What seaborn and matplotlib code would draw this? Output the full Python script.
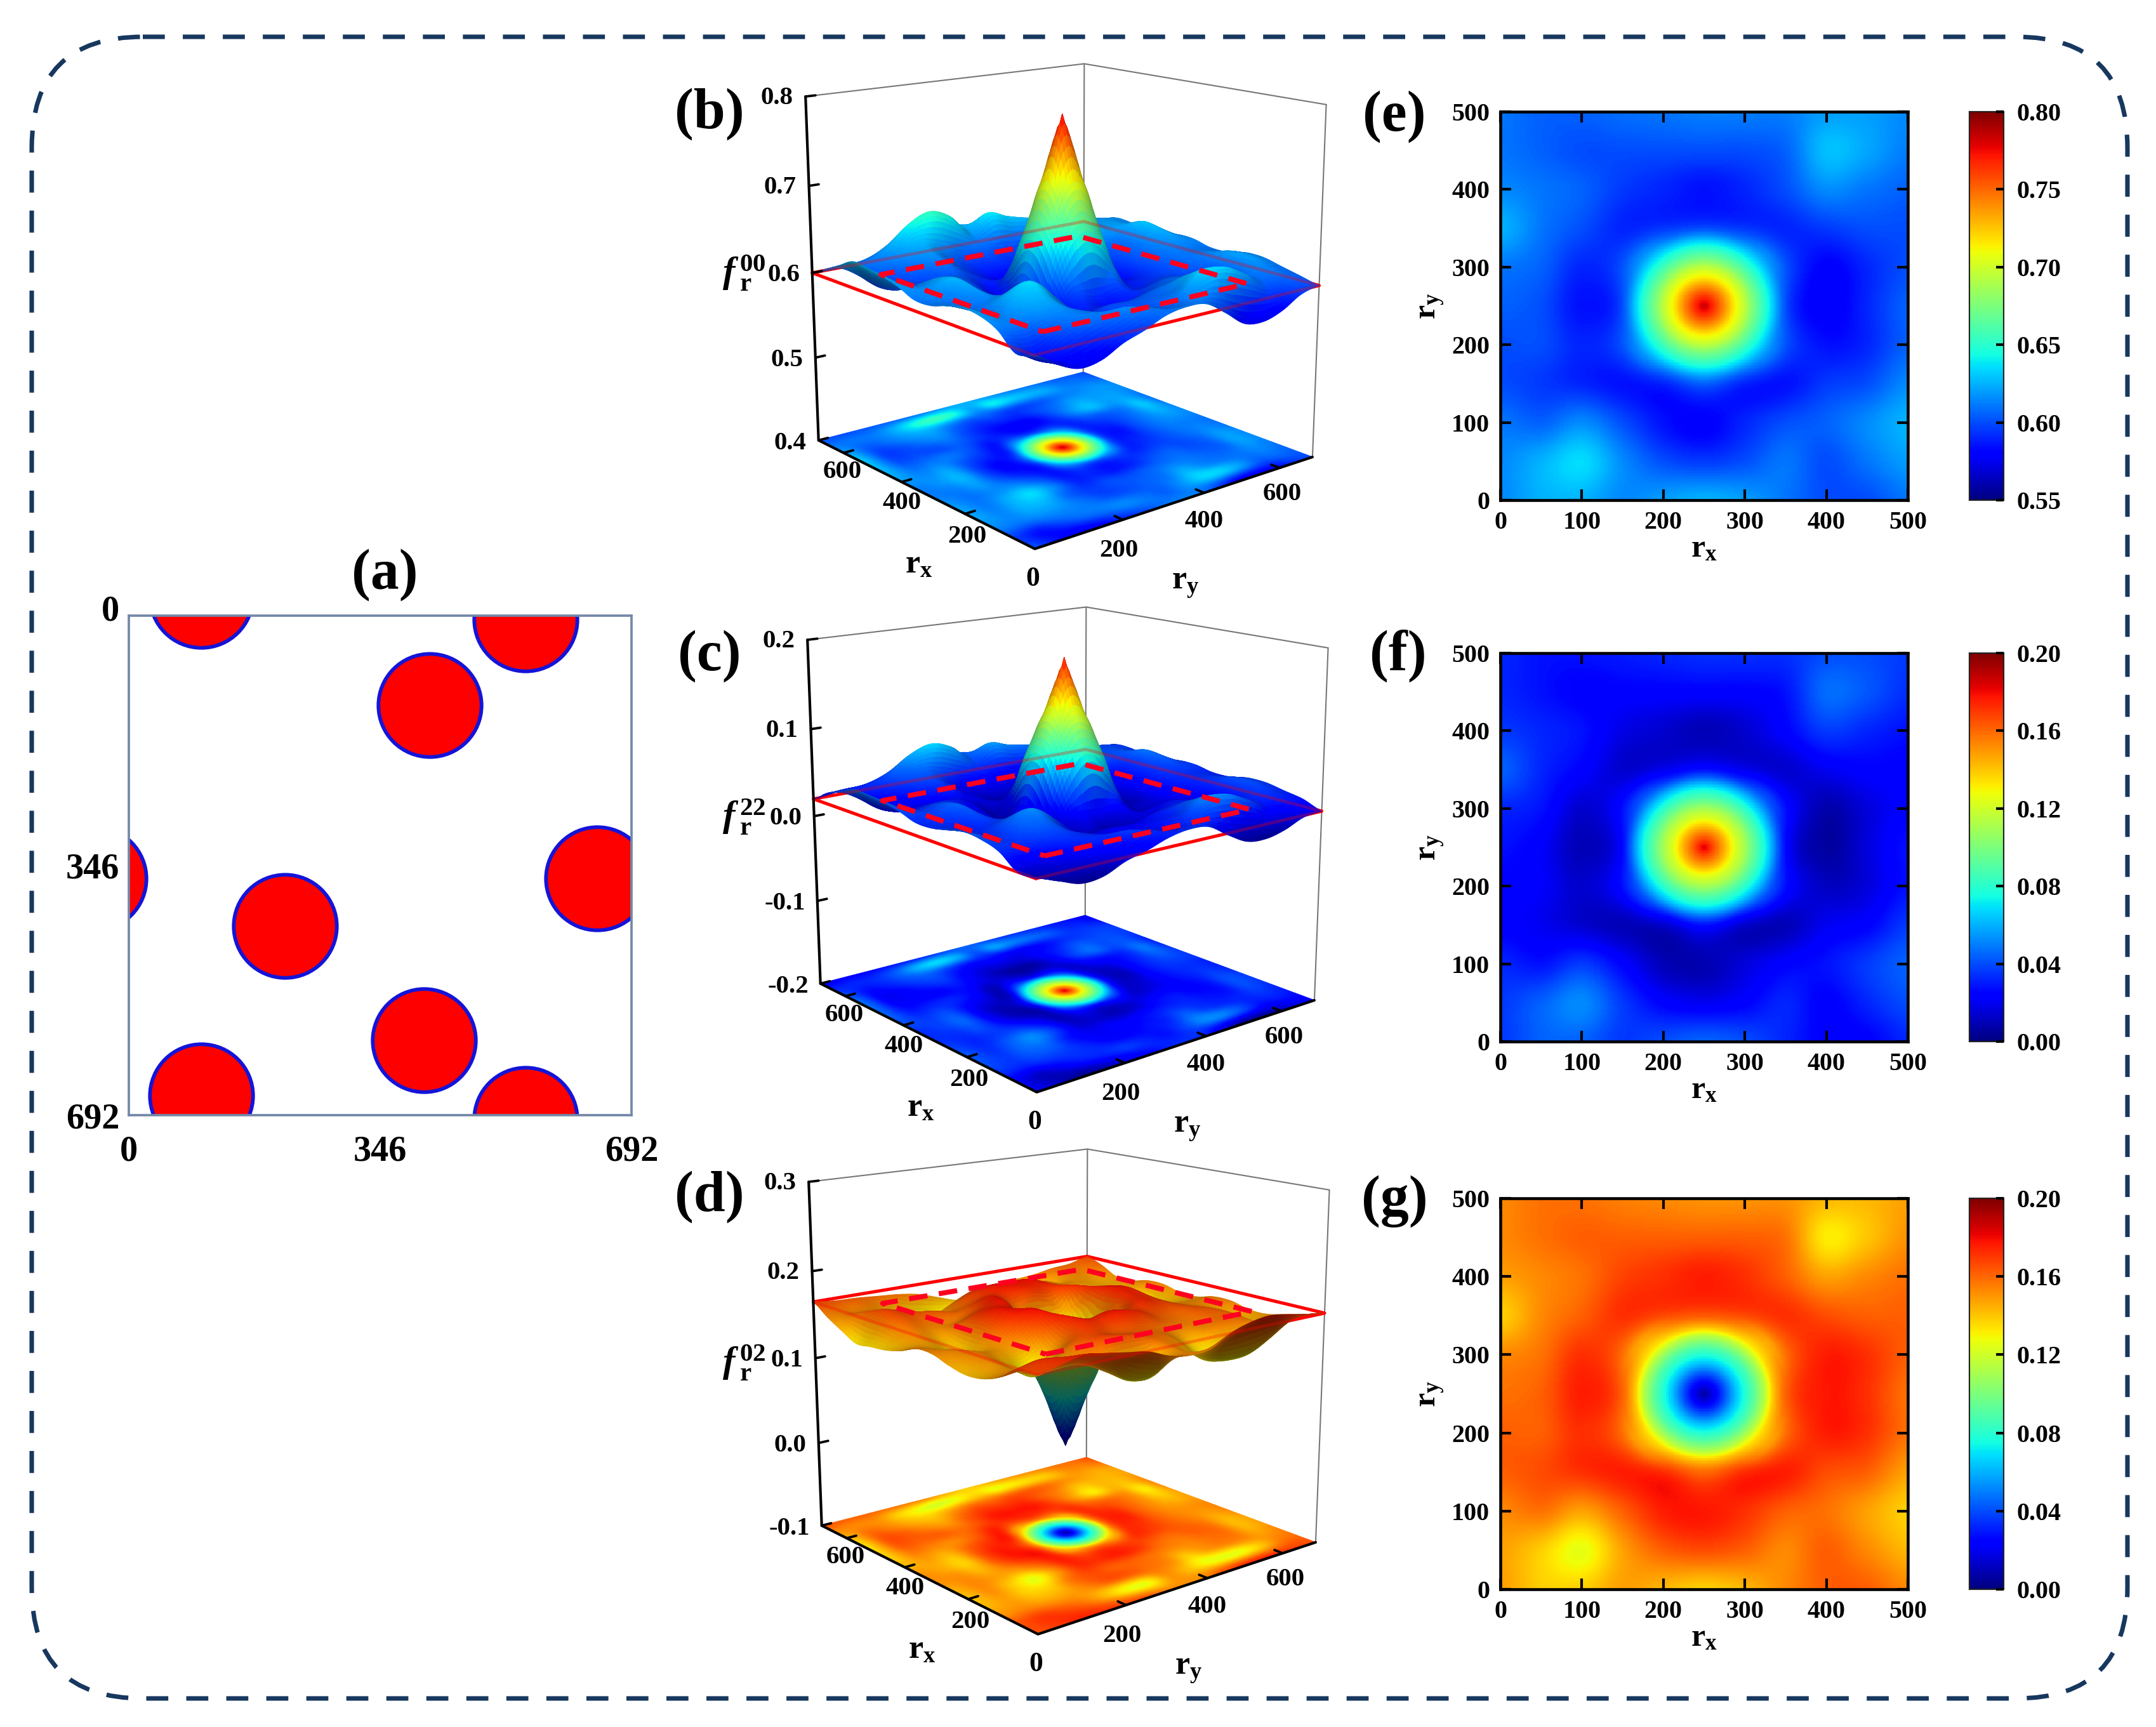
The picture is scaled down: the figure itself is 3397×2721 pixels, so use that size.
import numpy as np
import seaborn as sns
import matplotlib
matplotlib.use("Agg")
import matplotlib.pyplot as plt
from matplotlib.colors import Normalize
from matplotlib.patches import FancyBboxPatch
from matplotlib.ticker import FormatStrFormatter
from matplotlib.transforms import ScaledTranslation
from mpl_toolkits.mplot3d import proj3d

# === Panel (a): circle centres ===
circle_x = [414, 546, 100, 215, 406, 546, 645, -47, 100, 546]
circle_y = [124, 5, -27, 430, 588, 702, 364, 364, 665, 697]
cell_ticks = [0, 346, 692]

# === Surfaces, rows are r_y from top (692) to bottom (0), columns r_x from 0 to 692 ===
# the inner 11x11 is what panels e, f, g show (0-500 in steps of 50)
f00_rows = [
    [.600, .605, .610, .615, .615, .610, .610, .615, .615, .610, .610, .615, .615, .605, .600],
    [.595, .608, .615, .620, .620, .615, .612, .618, .625, .630, .622, .620, .618, .610, .604],
    [.582, .605, .610, .605, .605, .608, .610, .612, .612, .612, .620, .620, .615, .612, .606],
    [.575, .620, .610, .605, .600, .600, .600, .600, .600, .605, .628, .622, .612, .622, .610],
    [.578, .632, .615, .610, .605, .595, .590, .585, .590, .600, .615, .610, .605, .626, .612],
    [.595, .632, .625, .610, .600, .590, .595, .600, .595, .590, .595, .600, .600, .632, .615],
    [.610, .618, .610, .605, .590, .602, .660, .695, .660, .602, .580, .590, .600, .640, .620],
    [.612, .605, .605, .600, .585, .600, .695, .785, .695, .600, .578, .590, .605, .622, .625],
    [.608, .610, .600, .600, .590, .602, .660, .695, .660, .602, .585, .590, .605, .645, .618],
    [.598, .615, .600, .595, .590, .585, .590, .605, .590, .585, .595, .600, .615, .655, .610],
    [.590, .610, .610, .605, .615, .600, .585, .580, .590, .600, .605, .615, .625, .645, .606],
    [.578, .606, .615, .625, .635, .615, .600, .595, .600, .610, .600, .610, .620, .625, .604],
    [.575, .596, .615, .625, .625, .615, .620, .625, .620, .610, .600, .600, .610, .612, .602],
    [.585, .585, .610, .615, .612, .610, .612, .618, .615, .608, .600, .598, .604, .610, .600],
    [.600, .595, .612, .620, .622, .618, .612, .612, .620, .625, .628, .630, .620, .610, .600],
]
f22_rows = [
    [.020, .028, .032, .036, .036, .032, .032, .036, .036, .032, .032, .036, .036, .028, .020],
    [.018, .030, .036, .040, .040, .036, .034, .038, .044, .048, .042, .040, .038, .032, .027],
    [.009, .028, .032, .028, .028, .030, .032, .034, .034, .034, .040, .040, .036, .034, .029],
    [.004, .040, .032, .028, .024, .024, .024, .024, .024, .028, .046, .042, .034, .042, .032],
    [.006, .050, .036, .032, .028, .018, .014, .010, .014, .024, .036, .032, .028, .046, .034],
    [.018, .050, .044, .032, .024, .014, .020, .028, .020, .014, .020, .024, .024, .050, .036],
    [.032, .038, .032, .028, .014, .028, .080, .112, .080, .028, .008, .016, .024, .056, .040],
    [.034, .028, .028, .022, .010, .026, .112, .185, .112, .026, .006, .016, .028, .042, .044],
    [.030, .032, .024, .022, .014, .028, .080, .112, .080, .028, .012, .016, .028, .060, .038],
    [.022, .036, .024, .020, .014, .010, .014, .028, .014, .010, .020, .024, .036, .068, .032],
    [.016, .032, .032, .028, .036, .024, .010, .009, .016, .024, .028, .036, .044, .060, .029],
    [.006, .029, .036, .044, .052, .036, .024, .020, .024, .032, .024, .032, .040, .044, .027],
    [.004, .020, .036, .044, .044, .036, .040, .044, .040, .032, .024, .024, .032, .034, .025],
    [.012, .012, .032, .036, .034, .032, .034, .038, .036, .030, .024, .022, .027, .032, .024],
    [.020, .020, .034, .040, .042, .038, .034, .034, .040, .044, .046, .047, .040, .032, .020],
]
f02_rows = [
    [.165, .158, .153, .148, .148, .153, .153, .148, .148, .153, .153, .148, .148, .158, .165],
    [.168, .155, .148, .143, .143, .148, .151, .145, .138, .132, .140, .143, .145, .153, .159],
    [.172, .140, .153, .158, .158, .155, .153, .151, .151, .151, .143, .143, .148, .151, .157],
    [.175, .128, .153, .158, .162, .162, .162, .162, .162, .158, .132, .140, .151, .140, .153],
    [.172, .126, .148, .153, .158, .168, .172, .176, .172, .162, .148, .153, .158, .136, .151],
    [.165, .130, .138, .153, .162, .172, .166, .162, .166, .172, .166, .162, .162, .132, .148],
    [.153, .142, .153, .158, .172, .158, .102, .080, .102, .158, .176, .172, .162, .128, .143],
    [.151, .150, .158, .162, .176, .160, .080, .006, .080, .160, .177, .172, .158, .136, .138],
    [.155, .128, .162, .162, .172, .158, .102, .080, .102, .158, .176, .172, .158, .128, .145],
    [.164, .128, .162, .166, .172, .176, .172, .158, .172, .176, .166, .162, .148, .122, .153],
    [.168, .142, .153, .158, .148, .162, .176, .177, .172, .162, .158, .148, .138, .128, .157],
    [.172, .157, .148, .138, .126, .148, .162, .166, .162, .153, .162, .153, .143, .138, .159],
    [.175, .165, .148, .138, .138, .148, .143, .138, .143, .153, .162, .162, .153, .151, .161],
    [.170, .170, .153, .148, .151, .153, .151, .145, .148, .155, .162, .164, .159, .153, .162],
    [.165, .165, .151, .143, .141, .145, .151, .151, .143, .138, .136, .134, .143, .153, .165],
]

core_r = [0, 12, 25, 37, 50, 60, 75, 85, 100]
f00_core = [.785, .765, .740, .715, .695, .675, .650, .635, .605]
f22_core = [.185, .165, .145, .125, .110, .095, .075, .060, .030]
f02_core = [.006, .020, .040, .060, .078, .090, .115, .140, .165]

# === Axis settings per panel ===
z_ticks = {"b": [.4, .5, .6, .7, .8], "c": [-.2, -.1, 0, .1, .2], "d": [-.1, 0, .1, .2, .3]}
red_level = {"b": .6, "c": .02, "d": .165}
f_names = {"b": "00", "c": "22", "d": "02"}
norm_range = {"b": (.55, .80), "c": (0, .20), "d": (0, .20)}
cbar_ticks = {"e": [.55, .60, .65, .70, .75, .80],
              "f": [0, .04, .08, .12, .16, .20],
              "g": [0, .04, .08, .12, .16, .20]}
plane_ticks = [200, 400, 600]
map_ticks = [0, 100, 200, 300, 400, 500]
CELL = 692
WINDOW = [96, 596]

W, H = 3397, 2721
sns.set_style("white")
plt.rcParams["font.family"] = ["Liberation Serif"]
plt.rcParams["font.weight"] = "bold"
plt.rcParams["text.color"] = "black"
plt.rcParams["axes.labelcolor"] = "black"
plt.rcParams["xtick.labelcolor"] = "black"
plt.rcParams["ytick.labelcolor"] = "black"
plt.rcParams["mathtext.fontset"] = "custom"
plt.rcParams["mathtext.rm"] = "Liberation Serif"
plt.rcParams["mathtext.it"] = "Liberation Serif:italic"
plt.rcParams["mathtext.bf"] = "Liberation Serif:bold"
plt.rcParams["mathtext.bfit"] = "Liberation Serif:italic:bold"
RX = r"$\mathbf{r}_{\mathbf{x}}$"
RY = r"$\mathbf{r}_{\mathbf{y}}$"


def smooth(grid, n):
    # Catmull-Rom resampling of a read grid, only so the drawing is not blocky
    def along(a):
        pad = np.concatenate([a[:1], a, a[-1:]], axis=0)
        t = np.linspace(0, 1, n, endpoint=False)[:, None]
        out = []
        for i in range(1, pad.shape[0] - 2):
            p0, p1, p2, p3 = pad[i - 1], pad[i], pad[i + 1], pad[i + 2]
            seg = 0.5 * (2 * p1 + (p2 - p0) * t + (2 * p0 - 5 * p1 + 4 * p2 - p3) * t ** 2
                         + (3 * p1 - p0 - 3 * p2 + p3) * t ** 3)
            out.append(seg)
        return np.concatenate(out + [a[-1:]], axis=0)
    return along(along(grid).T).T


def with_core(fine, extent, core):
    # put the read radial profile in the middle of a resampled grid
    c = np.linspace(0, extent, fine.shape[0]) - extent / 2
    r = np.hypot(*np.meshgrid(c, c))
    w = np.clip((105 - r) / 30, 0, 1)
    return w * np.interp(r, core_r, core) + (1 - w) * fine


fig = plt.figure(figsize=(W / 300, H / 300), dpi=300, facecolor="white")

# overlay in pixel units for the border and the panel letters
bg = fig.add_axes([0, 0, 1, 1], zorder=-5)
bg.set_xlim(0, W)
bg.set_ylim(H, 0)
bg.axis("off")
bg.add_patch(FancyBboxPatch((50, 58), 3302, 2618, boxstyle="round,pad=0,rounding_size=175",
                            fc="none", ec="#17375e", lw=1.7, ls=(0, (4.9, 4)), capstyle="butt"))
for name, px, py in [("(a)", 606, 906), ("(b)", 1118, 180), ("(c)", 1118, 1034), ("(d)", 1118, 1886),
                     ("(e)", 2197, 184), ("(f)", 2203, 1033), ("(g)", 2197, 1893)]:
    bg.text(px, py, name, fontsize=21.5, ha="center", va="center")


def add_box(x0, y0, x1, y1):
    return fig.add_axes([x0 / W, 1 - y1 / H, (x1 - x0) / W, (y1 - y0) / H])


# === Panel (a) ===
ax_a = add_box(203, 970, 995, 1757)
sns.scatterplot(x=circle_x, y=circle_y, ax=ax_a, s=1520, color="#ff0000",
                edgecolor="#1414d8", linewidth=1.4, legend=False)
ax_a.set_xlim(0, CELL)
ax_a.set_ylim(CELL, 0)
ax_a.set_xticks(cell_ticks)
ax_a.set_yticks(cell_ticks)
ax_a.tick_params(length=0, labelsize=13.5)
ax_a.tick_params(axis="x", pad=7.5)
ax_a.tick_params(axis="y", pad=3.5)
first = ax_a.get_yticklabels()[0]
first.set_transform(first.get_transform() + ScaledTranslation(0, 12 / 300, fig.dpi_scale_trans))
for s in ax_a.spines.values():
    s.set_visible(True)
    s.set_color("#7488a8")
    s.set_linewidth(0.9)


# === Panels (e), (f), (g) ===
def draw_map(key, rows, core, vmin, vmax, y0, y1):
    ax = add_box(2364, y0, 3006, y1)
    cax = add_box(3103, y0, 3157, y1)
    grid = np.array(rows)[::-1][2:13, 2:13]
    fine = with_core(smooth(grid, 24), 500, core)
    n = fine.shape[0]
    sns.heatmap(fine, ax=ax, cbar_ax=cax, cmap="jet", vmin=vmin, vmax=vmax,
                xticklabels=False, yticklabels=False, rasterized=True,
                cbar_kws={"ticks": cbar_ticks[key]})
    ax.invert_yaxis()
    pos = [v / 500 * n for v in map_ticks]
    ax.set_xticks(pos, [str(v) for v in map_ticks])
    ax.set_yticks(pos, [str(v) for v in map_ticks], rotation=0)
    ax.set_axisbelow(False)
    ax.tick_params(direction="in", length=4, width=1, labelsize=9.6, top=True, right=True,
                   bottom=True, left=True, pad=4, color="black")
    for s in ax.spines.values():
        s.set_visible(True)
        s.set_color("black")
        s.set_linewidth(1.1)
    ax.set_xlabel(RX, fontsize=12, labelpad=0)
    ax.set_ylabel(RY, fontsize=12, labelpad=2)
    cax.yaxis.set_major_formatter(FormatStrFormatter("%.2f"))
    cax.tick_params(direction="in", length=3, width=1, labelsize=9.6, right=True, left=False, pad=5,
                    color="black")
    for s in cax.spines.values():
        s.set_visible(True)
        s.set_color("#222222")
        s.set_linewidth(0.5)
    cax.set_axisbelow(False)


draw_map("e", f00_rows, f00_core, .55, .80, 176, 788)
draw_map("f", f22_rows, f22_core, 0, .20, 1029, 1641)
draw_map("g", f02_rows, f02_core, 0, .20, 1888, 2504)

# cube corners on the page (panel b), used to size the 3d axes
CUBE_PX = np.array([[1633, 875], [1292, 691], [2068, 717], [1702, 579],
                    [1270, 152], [1706, 102], [2091, 166]], dtype=float)
BOX_Z = 1.0
LIGHT = np.array([-.45, -.5, .75])


def lit(surf, colours, amb, gain, zspan):
    # simple light on the surface colours
    step = CELL / (surf.shape[0] - 1)
    d_ry, d_rx = np.gradient(surf * BOX_Z * CELL / zspan, step)
    nrm = np.sqrt(d_ry ** 2 + d_rx ** 2 + 1)
    s = (-d_ry * LIGHT[0] - d_rx * LIGHT[1] + LIGHT[2]) / nrm / np.linalg.norm(LIGHT)
    out = colours.copy()
    out[..., :3] *= np.clip(amb + gain * np.clip(s, 0, 1), 0, 1)[..., None]
    return out


# === Panels (b), (c), (d) ===
def draw_cube(key, rows, core, dx, dy, amb, gain):
    ticks = z_ticks[key]
    zmin, zmax = ticks[0], ticks[-1]
    vmin, vmax = norm_range[key]
    norm = Normalize(vmin, vmax)
    cmap = plt.get_cmap("jet")
    ax = fig.add_axes([0.3, 0.1, 0.3, 0.3 * W / H], projection="3d", computed_zorder=False)
    ax.set_facecolor("none")
    ax.set_proj_type("persp", focal_length=0.54)
    ax.view_init(elev=15, azim=-129.5)
    ax.set_box_aspect((1, 1, BOX_Z))
    ax.set_xlim(0, CELL)
    ax.set_ylim(0, CELL)
    ax.set_zlim(zmin, zmax)
    ax.set_axis_off()

    # row 0 is r_y = 0; mplot3d x is r_y and y is r_x, so r_x runs off to the left like the original
    surf = with_core(smooth(np.array(rows)[::-1], 8), CELL, core)
    n = surf.shape[0]
    ry, rx = np.meshgrid(np.linspace(0, CELL, n), np.linspace(0, CELL, n), indexing="ij")
    ax.plot_surface(ry, rx, np.full_like(surf, zmin), facecolors=cmap(norm(surf)), rstride=1, cstride=1,
                    shade=False, linewidth=0.3, antialiased=True, zorder=1)

    c = red_level[key]
    a, b = 0, CELL
    square_x, square_y = [a, b, b, a, a], [a, a, b, b, a]
    ax.plot(square_x, square_y, [c] * 5, color="#ff0000", lw=1.2, zorder=2)

    ax.plot_surface(ry, rx, surf, facecolors=lit(surf, cmap(norm(surf)), amb, gain, zmax - zmin),
                    rstride=1, cstride=1, shade=False, linewidth=0.3, antialiased=True, zorder=3)

    # the solid square shows faintly through the surface
    ax.plot(square_x, square_y, [c] * 5, color="#ff0000", lw=1.2, alpha=.3, zorder=4)
    a, b = WINDOW
    ax.plot([a, b, b, a, a], [a, a, b, b, a], [c] * 5, color="#ff0020", lw=1.9, ls=(0, (3.7, 2.3)), zorder=4)

    # box edges
    grey = dict(color="#777777", lw=0.5, zorder=0)
    ax.plot([0, CELL, CELL], [CELL, CELL, 0], [zmax] * 3, **grey)
    ax.plot([CELL, CELL], [CELL, CELL], [zmin, zmax], **grey)
    ax.plot([CELL, CELL], [0, 0], [zmin, zmax], **grey)
    ax.plot([CELL, 0, 0], [0, 0, CELL], [zmin] * 3, color="black", lw=1.0, zorder=5)
    ax.plot([0, 0], [CELL, CELL], [zmin, zmax], color="black", lw=1.0, zorder=5)

    # ticks and labels
    for z in ticks:
        ax.plot([0, 22], [CELL, CELL], [z, z], color="black", lw=0.9, zorder=5)
        ax.text(-28, CELL, z, f"{z:.1f}", ha="right", va="center", fontsize=9.8)
    for v in plane_ticks:
        ax.plot([0, 22], [v, v], [zmin, zmin], color="black", lw=0.9, zorder=5)
        ax.plot([v, v], [0, 22], [zmin, zmin], color="black", lw=0.9, zorder=5)
        ax.text(-58, v - 85, zmin, str(v), ha="center", va="center", fontsize=9.8)
        ax.text(v - 94, -97, zmin, str(v), ha="center", va="center", fontsize=9.8)
    ax.text(-78, -92, zmin, "0", ha="center", va="center", fontsize=10.5)
    ax.text(-190, 72, zmin, RX, ha="center", va="center", fontsize=12.5)
    ax.text(100, -268, zmin, RY, ha="center", va="center", fontsize=12.5)

    # size the axes so the cube lands on its place on the page
    corners = [(0, 0, zmin), (0, CELL, zmin), (CELL, 0, zmin), (CELL, CELL, zmin),
               (0, CELL, zmax), (CELL, CELL, zmax), (CELL, 0, zmax)]
    xs, ys, zs = zip(*corners)
    px, py, _ = proj3d.proj_transform(np.array(xs), np.array(ys), np.array(zs), ax.get_proj())
    cur = ax.transData.transform(np.column_stack([px, py]))
    tgt = CUBE_PX + [dx, dy]
    tgt = np.column_stack([tgt[:, 0], H - tgt[:, 1]])
    s = ((cur - cur.mean(0)) * (tgt - tgt.mean(0))).sum() / ((cur - cur.mean(0)) ** 2).sum()
    t = tgt.mean(0) - s * cur.mean(0)
    box = ax.get_position()
    x0, y0 = box.x0 * W * s + t[0], box.y0 * H * s + t[1]
    ax.set_position([x0 / W, y0 / H, box.width * s, box.height * s])


draw_cube("b", f00_rows, f00_core, 0, 0, .45, .65)
draw_cube("c", f22_rows, f22_core, 3, 856, .45, .65)
draw_cube("d", f02_rows, f02_core, 5, 1710, .38, .6)

for key, y in [("b", 430), ("c", 1287), ("d", 2147)]:
    bg.text(1172, y, r"$\mathbfit{f}\,_{\mathbf{r}}^{\mathbf{%s}}$" % f_names[key], fontsize=14,
            ha="center", va="center")

fig.savefig("out.png", dpi=300)
